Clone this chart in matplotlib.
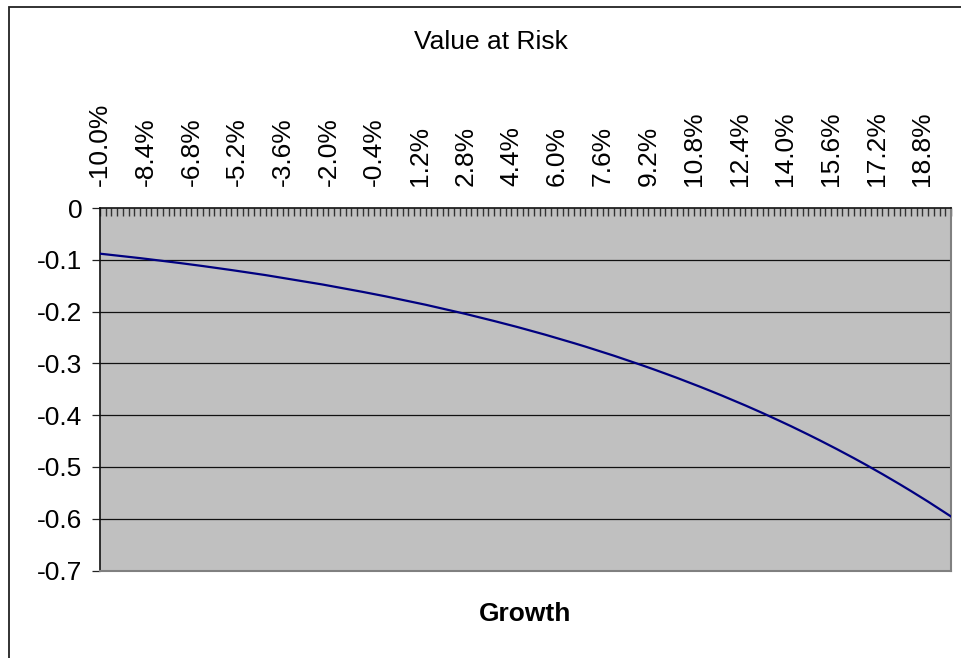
import matplotlib
matplotlib.use("Agg")
import matplotlib.pyplot as plt
from matplotlib.patches import Rectangle

plt.rcParams['font.family'] = ['Liberation Sans', 'DejaVu Sans']

title = "Value at Risk"
x_title = "Growth"

# categories: growth from -10.0% to 19.8% in 0.2% steps
growth = [round(-10.0 + 0.2 * i, 1) for i in range(150)]
growth_labels = [f"{g:.1f}%" for g in growth]

value_at_risk = [
    -0.0882, -0.0894, -0.0906, -0.0918, -0.0930, -0.0943, -0.0956, -0.0968, -0.0982, -0.0995,
    -0.1008, -0.1022, -0.1035, -0.1049, -0.1063, -0.1077, -0.1092, -0.1106, -0.1121, -0.1136,
    -0.1151, -0.1166, -0.1182, -0.1198, -0.1214, -0.1230, -0.1246, -0.1263, -0.1279, -0.1296,
    -0.1314, -0.1331, -0.1348, -0.1366, -0.1384, -0.1403, -0.1421, -0.1440, -0.1459, -0.1478,
    -0.1498, -0.1517, -0.1537, -0.1557, -0.1578, -0.1599, -0.1620, -0.1641, -0.1662, -0.1684,
    -0.1706, -0.1729, -0.1751, -0.1774, -0.1797, -0.1821, -0.1844, -0.1868, -0.1893, -0.1918,
    -0.1943, -0.1968, -0.1993, -0.2019, -0.2045, -0.2072, -0.2099, -0.2126, -0.2154, -0.2182,
    -0.2210, -0.2238, -0.2267, -0.2296, -0.2326, -0.2356, -0.2386, -0.2417, -0.2448, -0.2480,
    -0.2512, -0.2544, -0.2577, -0.2610, -0.2643, -0.2677, -0.2712, -0.2746, -0.2781, -0.2817,
    -0.2853, -0.2890, -0.2926, -0.2964, -0.3001, -0.3040, -0.3078, -0.3118, -0.3157, -0.3198,
    -0.3238, -0.3279, -0.3321, -0.3363, -0.3406, -0.3449, -0.3492, -0.3537, -0.3581, -0.3627,
    -0.3673, -0.3719, -0.3766, -0.3813, -0.3861, -0.3910, -0.3959, -0.4009, -0.4059, -0.4111,
    -0.4162, -0.4214, -0.4267, -0.4321, -0.4375, -0.4429, -0.4485, -0.4541, -0.4598, -0.4655,
    -0.4713, -0.4772, -0.4831, -0.4891, -0.4952, -0.5014, -0.5076, -0.5139, -0.5203, -0.5268,
    -0.5333, -0.5399, -0.5466, -0.5534, -0.5602, -0.5671, -0.5742, -0.5813, -0.5885, -0.5957,
]

y_ticks = [0, -0.1, -0.2, -0.3, -0.4, -0.5, -0.6, -0.7]
y_tick_labels = ["0", "-0.1", "-0.2", "-0.3", "-0.4", "-0.5", "-0.6", "-0.7"]

W, H = 961, 658
fig = plt.figure(figsize=(W / 100, H / 100), dpi=100)
fig.patch.set_facecolor("white")

# chart-area border (extends beyond right and bottom edges)
fig.patches.append(Rectangle((9 / W, -0.1), 1.2, 1 - 7 / H + 0.1,
                             transform=fig.transFigure, fill=False,
                             edgecolor="#222222", linewidth=1.3, clip_on=False))

left, right, top, bottom = 100, 951, 208, 570.5
ax = fig.add_axes([left / W, 1 - bottom / H, (right - left) / W, (bottom - top) / H])
ax.set_facecolor("#C0C0C0")

x = list(range(len(growth)))
ax.plot(x, value_at_risk, color="#000080", linewidth=1.6, zorder=3)

ax.set_xlim(0, len(growth) - 1)
ax.set_ylim(-0.7, 0)

ax.set_yticks(y_ticks)
ax.set_yticklabels(y_tick_labels, fontsize=19)
for yv in y_ticks[1:-1]:
    ax.axhline(yv, color="#111111", linewidth=0.9, zorder=1)

ax.xaxis.tick_top()
ax.set_xticks(x)
ax.set_xticklabels([lab if i % 8 == 0 else "" for i, lab in enumerate(growth_labels)],
                   rotation=90, fontsize=19)
ax.tick_params(axis="x", direction="in", length=5.8, width=1.0, color="#333333", pad=16)
ax.tick_params(axis="y", direction="out", length=5.8, width=0.9, color="#222222", pad=7)

for s in ["left", "top"]:
    ax.spines[s].set_color("#111111")
    ax.spines[s].set_linewidth(1.2)
for s in ["right", "bottom"]:
    ax.spines[s].set_color("#808080")
    ax.spines[s].set_linewidth(1.5)

fig.text(491 / W, 1 - 42 / H, title, ha="center", va="center", fontsize=19)
fig.text(525.5 / W, 1 - 614 / H, x_title, ha="center", va="center", fontsize=19,
         fontweight="bold")

fig.savefig("out.png", dpi=100)
